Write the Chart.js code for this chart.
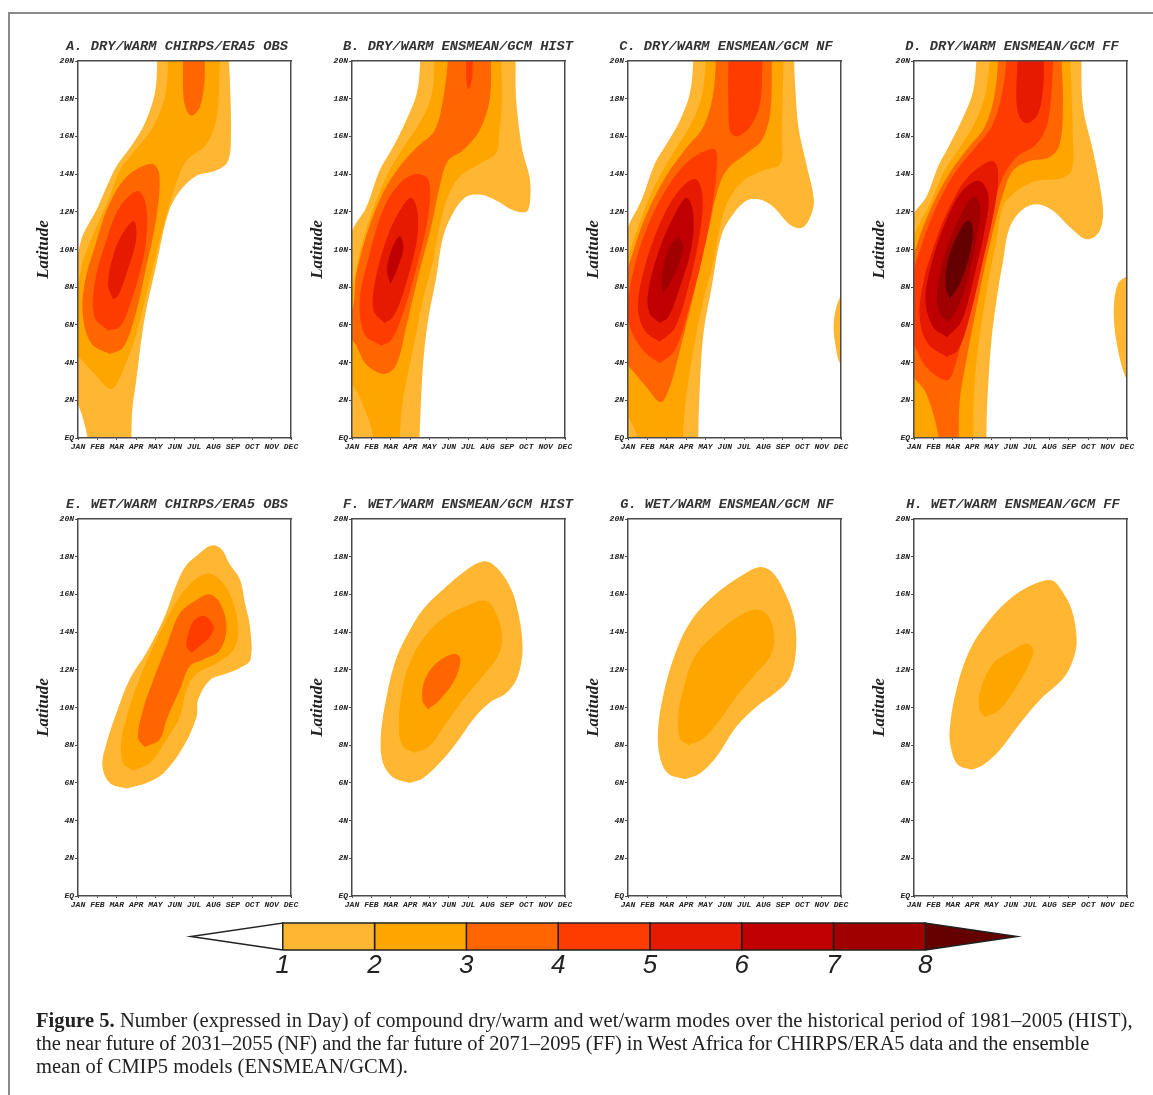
<!DOCTYPE html>
<html>
<head>
<meta charset="utf-8">
<title>Figure 5</title>
<script src="https://cdn.jsdelivr.net/npm/chart.js@4"></script>
<style>
  body { margin: 0; background: #fff; width: 1153px; height: 1095px; overflow: hidden; position: relative; }
  canvas { position: absolute; filter: blur(0.45px); }
  .frameTop { position: absolute; left: 8px; top: 12px; right: 0; height: 1.5px; background: #8a8a8a; }
  .frameLeft { position: absolute; left: 8px; top: 12px; bottom: 0; width: 1.5px; background: #8a8a8a; }
  .cap { position: absolute; left: 36px; white-space: nowrap; font: 20.5px/23px "Liberation Serif", serif; color: #222; filter: blur(0.3px); }
</style>
</head>
<body>
<div class="frameTop"></div>
<div class="frameLeft"></div>
<div class="cap" style="top:1009px;letter-spacing:0.06px"><b>Figure 5.</b> Number (expressed in Day) of compound dry/warm and wet/warm modes over the historical period of 1981–2005 (HIST),</div>
<div class="cap" style="top:1032px;letter-spacing:-0.09px">the near future of 2031–2055 (NF) and the far future of 2071–2095 (FF) in West Africa for CHIRPS/ERA5 data and the ensemble</div>
<div class="cap" style="top:1055px">mean of CMIP5 models (ENSMEAN/GCM).</div>

<script>
const months = ["JAN", "FEB", "MAR", "APR", "MAY", "JUN", "JUL", "AUG", "SEP", "OCT", "NOV", "DEC"];
const latLabels = ["EQ", "2N", "4N", "6N", "8N", "10N", "12N", "14N", "16N", "18N", "20N"];
const barTicks = [1, 2, 3, 4, 5, 6, 7, 8];
const levelColors = ["#ffffff", "#ffb733", "#ffa500", "#ff6600", "#ff3c00", "#e61a00", "#c00000", "#a00000", "#640000"];

// contour outlines as [month, latitude]; points past the frame get clipped
const A1 = [[5.09,21],[5.09,20],[4.97,18.3],[4.45,16.7],[3.76,15.5],[2.98,14.4],[2.47,13.3],[1.95,12.1],[1.26,10.8],[1,9.8],[0.3,7],[0.3,3],[1,1.8],[1.5,0],[1.55,-1],[3.75,-1],[3.76,0],[3.8,1.45],[4,3],[4.45,6.4],[5.05,9.2],[5.65,11.9],[6.26,13.1],[7.1,13.9],[8.15,14.2],[8.75,14.7],[8.9,16.1],[8.85,18.8],[8.8,20],[8.8,21]];
const A2 = [[5.66,21],[5.66,20],[5.48,18.1],[4.88,16.5],[3.93,15.25],[3.16,14.2],[2.64,12.8],[1.95,11.2],[1.26,9.4],[1,8.2],[0.3,6.5],[0.3,4.5],[1,4.3],[1.86,3.4],[2.72,2.6],[3.33,3.6],[4,5.5],[4.62,8],[5.3,10.8],[6,13.3],[6.6,14.7],[7.64,15.6],[8.16,17],[8.33,20],[8.33,21]];
const A3 = [[2.64,4.45],[1.7,5],[1.26,6.4],[1.34,8.2],[1.86,10.1],[2.55,12.25],[3.5,13.85],[4.8,14.55],[5.2,14],[5.05,11.7],[4.53,9.1],[3.93,6.4],[3.33,4.8],[2.64,4.45]];
const A3b = [[6.43,21],[6.43,20],[6.43,18.4],[6.55,17.55],[6.86,17.1],[7.29,17.55],[7.52,18.8],[7.55,20],[7.55,21]];
const A4 = [[2.55,5.7],[1.86,6.4],[1.86,8.2],[2.47,10.5],[3.16,12.25],[4.1,13.1],[4.53,12.25],[4.45,9.95],[3.76,7.3],[3.16,5.9],[2.55,5.7]];
const A5 = [[2.81,7.35],[2.55,8.2],[2.9,9.95],[3.4,11],[3.9,11.5],[4,10.5],[3.5,8.7],[3.07,7.55],[2.81,7.35]];

const B1 = [[4.52,21],[4.52,20],[4.35,18.3],[3.8,16.85],[3.1,15.4],[2.43,14.2],[1.74,12.25],[1,11],[0.3,9],[0.3,-1],[4.49,-1],[4.49,0],[4.66,3.75],[4.92,6.2],[5.35,8.5],[5.7,10.65],[6.2,11.9],[6.9,12.8],[7.67,12.9],[8.44,12.6],[9.3,12.1],[10,12],[10.2,12.6],[10.17,13.85],[9.8,15.25],[9.48,17.9],[9.45,20],[9.45,21]];
const B2 = [[5.26,21],[5.26,20],[5.09,18.1],[4.49,16.7],[3.63,15.4],[2.94,14.2],[2.25,12.6],[1.57,10.5],[1,8],[0.3,5],[0.3,3],[1,2.85],[1.74,1.3],[2.12,0],[2.15,-1],[3.44,-1],[3.46,0],[3.63,2],[4.14,4.65],[4.66,7.3],[5.18,9.4],[5.52,11.2],[5.95,12.8],[6.55,13.85],[7.58,14.55],[8.44,15.1],[8.6,16.1],[8.75,17.9],[8.7,20],[8.7,21]];
const B3 = [[5.95,21],[5.95,20],[5.69,17.9],[5.26,16.3],[4.32,15.4],[3.46,14.4],[2.6,13],[1.82,11],[1.22,8.7],[1,6.75],[0.3,6],[0.3,5.2],[1,5.2],[1.74,3.9],[2.68,3.4],[3.29,3.9],[3.8,5.9],[4.4,8.5],[5.09,11.2],[5.52,13.3],[5.95,14.7],[6.72,15.25],[7.58,16.3],[8.1,17.9],[8.18,20],[8.18,21]];
const B4 = [[2.51,4.9],[1.65,5.5],[1.4,7.3],[1.82,9.4],[2.6,12.1],[3.46,13.5],[4.32,14],[4.97,13.65],[4.92,11.7],[4.32,9],[3.63,6.6],[3.03,5.2],[2.51,4.9]];
const B4b = [[6.9,21],[6.9,20],[6.9,19],[7.02,18.5],[7.19,19],[7.24,20],[7.24,21]];
const B5 = [[2.68,6.1],[2.12,6.75],[2.17,8.2],[2.77,10.5],[3.46,12.05],[4.06,12.75],[4.4,11.9],[4.32,10.3],[3.63,7.65],[3.11,6.4],[2.68,6.1]];
const B6 = [[2.98,8.15],[2.8,8.9],[3.03,9.95],[3.46,10.7],[3.66,10.1],[3.37,9.05],[2.98,8.15]];

const C1 = [[4.37,21],[4.37,20],[4.2,18.3],[3.68,16.85],[2.99,15.6],[2.38,14.55],[1.69,12.6],[1,11.2],[0.3,9],[0.3,-1],[4.63,-1],[4.63,0],[4.68,2],[4.89,5.5],[5.32,8],[5.84,10.8],[6.44,11.9],[7.14,12.6],[7.82,12.65],[8.51,12.25],[9.38,11.3],[9.98,11.15],[10.4,11.7],[10.6,12.6],[10.24,14.4],[9.8,16.5],[9.63,18.8],[9.58,20],[9.58,21]];
const C1b = [[12.8,8.5],[12,7.55],[11.76,6.95],[11.62,6.05],[11.7,5],[12,3.85],[12.8,3],[12.8,8.5]];
const C2 = [[5.02,21],[5.02,20],[4.8,18.1],[4.28,16.7],[3.5,15.4],[2.81,14.2],[2.12,12.8],[1.52,11.2],[1,9.6],[0.3,7],[0.3,3],[1,1.2],[1.52,0],[1.55,-1],[3.83,-1],[3.85,0],[3.94,1.6],[4.37,4.65],[4.89,7.3],[5.4,9.3],[5.75,11.2],[6.18,12.6],[6.96,13.65],[8,14.2],[8.86,14.55],[8.94,16.1],[8.98,17.9],[9.03,20],[9.03,21]];
const C3 = [[5.54,21],[5.54,20],[5.37,18.1],[4.89,16.5],[4.02,15.4],[3.16,14.2],[2.38,12.8],[1.69,11.2],[1,9.05],[0.3,7],[0.3,4.5],[1,3.85],[1.95,2.7],[2.69,1.9],[3.16,2.7],[3.68,4.65],[4.19,6.75],[4.71,9.05],[5.23,11.35],[5.58,12.95],[6.09,14.2],[7.13,15.1],[7.91,15.8],[8.34,17.2],[8.43,20],[8.43,21]];
const C4 = [[2.64,3.95],[1.78,4.65],[1.09,5.9],[1,7.3],[1.52,9.8],[2.3,11.9],[3.16,13.5],[4.19,14.75],[5.4,15.35],[5.6,14.9],[5.4,12.6],[4.89,9.8],[4.19,7],[3.42,4.65],[2.64,3.95]];
const C4b = [[6.18,21],[6.18,20],[6.18,17.9],[6.27,16.3],[6.61,16],[7.3,16.5],[7.82,17.75],[7.94,20],[7.94,21]];
const C5 = [[2.64,5.1],[1.86,5.7],[1.52,6.95],[1.86,9.05],[2.64,11.35],[3.5,12.95],[4.45,13.75],[4.83,12.95],[4.71,10.85],[4.11,8],[3.42,5.85],[2.64,5.1]];
const C6 = [[2.64,6.1],[2.12,6.6],[2.03,7.65],[2.55,9.8],[3.33,11.7],[4.02,12.75],[4.37,11.9],[4.28,10.1],[3.68,8],[3.08,6.4],[2.64,6.1]];
const C7 = [[2.81,7.65],[2.73,8.5],[3.07,9.95],[3.6,10.65],[3.85,10.1],[3.42,8.7],[2.81,7.65]];

const D1 = [[4.22,21],[4.22,20],[4.05,18.4],[3.53,17],[2.76,15.4],[2.24,14.4],[1.64,12.8],[1,11.9],[0.3,10],[0.3,-1],[4.74,-1],[4.74,0],[4.79,2],[5,5.2],[5.26,7.3],[5.6,9.4],[5.95,11.2],[6.64,12.15],[7.41,12.4],[8.18,12.05],[9.04,11.2],[9.9,10.55],[10.5,10.85],[10.76,11.7],[10.67,12.95],[10.24,15.25],[9.73,17.55],[9.64,20],[9.64,21]];
const D1b = [[12.8,9.2],[12,8.6],[11.54,8.2],[11.32,6.95],[11.45,5.15],[12,3.05],[12.8,2],[12.8,9.2]];
const D2 = [[4.91,21],[4.91,20],[4.65,18.1],[4.13,16.7],[3.36,15.4],[2.58,14.2],[1.9,12.6],[1,10.8],[0.3,9],[0.3,-1],[4.05,-1],[4.05,0],[4.13,2.85],[4.4,5.5],[4.82,8.2],[5.26,10.5],[5.6,12.25],[6.29,13.1],[7.33,13.65],[8.53,13.75],[9.14,14.2],[9.2,16.1],[9.08,20],[9.08,21]];
const D3 = [[5.34,21],[5.34,20],[5.14,18.1],[4.65,16.5],[3.8,15.4],[2.93,14.2],[2.16,12.8],[1.47,11.2],[1,9.8],[0.3,8],[0.3,4],[1,3.2],[1.64,2.35],[2.29,0],[2.3,-1],[3.3,-1],[3.31,0],[3.36,2],[3.7,4.1],[4.13,6.4],[4.65,9.05],[5.17,11.35],[5.6,12.95],[6.12,14.2],[6.98,14.7],[8,14.9],[8.53,15.6],[8.7,17.9],[8.62,20],[8.62,21]];
const D4 = [[5.77,21],[5.77,20],[5.51,18.1],[5,16.5],[4.15,15.4],[3.2,14.2],[2.41,12.8],[1.72,11.2],[1,9.05],[0.3,7.5],[0.3,5.5],[1,4.9],[1.64,3.75],[2.7,3.05],[3.1,3.75],[3.62,5.9],[4.13,8],[4.56,10.3],[5.08,12.25],[5.6,13.85],[6.29,14.9],[7.33,15.6],[7.93,16.85],[8.19,20],[8.19,21]];
const D5 = [[2.7,4.3],[1.72,5],[1.29,6.4],[1.47,8.2],[2.07,10.3],[2.84,12.25],[3.79,13.85],[5,14.7],[5.34,14.2],[5.17,12.25],[4.56,9.4],[3.87,6.4],[3.27,4.65],[2.7,4.3]];
const D5b = [[6.34,21],[6.34,20],[6.29,17.9],[6.46,17],[6.86,16.7],[7.41,17.2],[7.67,18.6],[7.71,20],[7.71,21]];
const D6 = [[2.7,5.35],[1.98,5.9],[1.6,7.3],[1.9,9.25],[2.67,11.55],[3.53,13.15],[4.36,13.65],[4.83,12.95],[4.74,11.55],[4.14,8.7],[3.45,6.2],[2.7,5.35]];
const D7 = [[2.76,6.15],[2.33,6.6],[2.19,7.65],[2.59,9.75],[3.28,11.55],[4.05,12.8],[4.43,12.25],[4.22,10.5],[3.71,8.2],[3.1,6.6],[2.76,6.15]];
const D8 = [[2.84,7.4],[2.64,8],[2.71,9.25],[3.19,10.65],[3.79,11.55],[4.05,11],[3.79,9.4],[3.27,8],[2.84,7.4]];

const E1 = [[3.5,5.7],[2.64,6],[2.26,6.9],[2.47,8.1],[2.98,9.7],[3.67,11.5],[4.53,12.9],[5.4,14.65],[6.43,17.3],[7.29,18.2],[7.9,18.6],[8.41,18.4],[8.84,17.6],[9.36,16.8],[9.62,15.55],[9.88,14.3],[9.91,12.55],[9.36,12.1],[8.67,11.8],[7.81,11.45],[7.2,10.4],[7.12,9.5],[6.43,7.9],[5.4,6.5],[4.53,6],[3.5,5.7]];
const E2 = [[3.84,6.65],[3.33,7.05],[3.24,8.3],[3.67,10.05],[4.28,11.8],[5.22,13.95],[6.26,15.9],[7.12,16.85],[7.81,17.1],[8.5,16.6],[9.02,15.55],[9.28,14.1],[9.02,13.05],[8.16,12.35],[7.12,11.8],[6.6,10.95],[6.26,9.5],[5.57,8.3],[4.71,7.05],[3.84,6.65]];
const E3 = [[4.45,7.9],[4.1,8.4],[4.36,9.9],[4.88,11.45],[5.57,13.25],[6.26,15],[7.12,15.7],[7.81,16],[8.33,15.55],[8.67,14.3],[8.33,13.05],[7.47,12.55],[6.78,12.2],[6.26,10.95],[5.57,9.35],[5.22,8.3],[4.45,7.9]];
const E4 = [[6.86,12.9],[6.6,13.25],[6.72,14],[7.03,14.65],[7.55,14.85],[8,14.3],[7.81,13.75],[7.29,13.25],[6.86,12.9]];

const F1 = [[3.97,6],[3.11,6.3],[2.6,7.05],[2.48,8.3],[2.69,10.05],[3.2,12.35],[3.8,13.75],[4.66,15.2],[5.69,16.25],[6.9,17.3],[7.75,17.75],[8.27,17.6],[8.95,16.8],[9.47,15.55],[9.81,13.25],[9.56,11.65],[8.95,10.75],[8.1,10.25],[7.24,9.35],[6.38,8.1],[5.52,7.05],[4.66,6.25],[3.97,6]];
const F2 = [[4.23,7.6],[3.63,7.95],[3.42,8.8],[3.54,10.6],[3.97,12.35],[4.75,13.75],[5.86,14.85],[7.07,15.45],[7.92,15.65],[8.44,15],[8.75,13.75],[8.53,12.7],[7.58,11.45],[6.72,10.4],[5.86,9.15],[5,7.95],[4.23,7.6]];
const F3 = [[4.92,9.9],[4.63,10.4],[4.75,11.45],[5.35,12.35],[6.29,12.85],[6.6,12.55],[6.29,11.45],[5.52,10.4],[4.92,9.9]];

const G1 = [[3.94,6.2],[3.07,6.5],[2.64,7.4],[2.55,8.8],[2.81,10.6],[3.33,12.55],[4.19,14.5],[5.4,15.9],[6.79,16.95],[7.82,17.45],[8.43,17.2],[9.03,16.25],[9.55,14.85],[9.69,13.25],[9.38,11.65],[8.69,10.85],[7.65,10.05],[6.61,9],[5.58,7.4],[4.71,6.5],[3.94,6.2]];
const G2 = [[4.11,8],[3.68,8.35],[3.59,9.5],[3.85,10.95],[4.45,12.7],[5.58,13.95],[6.79,14.9],[7.65,15.2],[8.25,14.85],[8.55,13.75],[8.34,12.7],[7.48,11.65],[6.61,10.6],[5.75,9.35],[4.89,8.35],[4.11,8]];

const H1 = [[3.97,6.7],[3.28,6.95],[2.93,7.75],[2.84,8.8],[3.19,10.95],[3.88,13.05],[4.91,14.65],[6.12,15.9],[7.33,16.6],[8.1,16.75],[8.53,16.35],[9.14,15.2],[9.4,13.6],[9.22,12.55],[8.71,11.55],[7.5,10.4],[6.47,9.15],[5.43,7.75],[4.57,6.95],[3.97,6.7]];
const H2 = [[4.66,9.5],[4.36,9.95],[4.48,11.1],[5.09,12.35],[5.95,12.95],[6.81,13.4],[7.16,13.05],[6.9,12.2],[6.29,11.1],[5.43,9.9],[4.66,9.5]];

// title, contours as [level, outline], left of frame, top of frame, centre of title
const panels = [
  ["A. DRY/WARM CHIRPS/ERA5 OBS", [[1,A1],[2,A2],[3,A3],[3,A3b],[4,A4],[5,A5]], 78, 61, 177],
  ["B. DRY/WARM ENSMEAN/GCM HIST", [[1,B1],[2,B2],[3,B3],[4,B4],[4,B4b],[5,B5],[6,B6]], 352, 61, 458],
  ["C. DRY/WARM ENSMEAN/GCM NF", [[1,C1],[1,C1b],[2,C2],[3,C3],[4,C4],[4,C4b],[5,C5],[6,C6],[7,C7]], 628, 61, 726],
  ["D. DRY/WARM ENSMEAN/GCM FF", [[1,D1],[1,D1b],[2,D2],[3,D3],[4,D4],[5,D5],[5,D5b],[6,D6],[7,D7],[8,D8]], 914, 61, 1012],
  ["E. WET/WARM CHIRPS/ERA5 OBS", [[1,E1],[2,E2],[3,E3],[4,E4]], 78, 519, 177],
  ["F. WET/WARM ENSMEAN/GCM HIST", [[1,F1],[2,F2],[3,F3]], 352, 519, 458],
  ["G. WET/WARM ENSMEAN/GCM NF", [[1,G1],[2,G2]], 628, 519, 727],
  ["H. WET/WARM ENSMEAN/GCM FF", [[1,H1],[2,H2]], 914, 519, 1013],
];

const frameColor = "#4a4a4a";
const tickFont = { family: "Liberation Mono", size: 8, weight: "bold", style: "italic" };

function hiddenAxis(axis, position) {
  return {
    axis: axis, position: position, type: "linear",
    grid: { display: false },
    ticks: { display: false },
    border: { display: true, color: frameColor, width: 1.5, z: 1 },
  };
}

function drawPanel(panel) {
  const [title, contours, left, top, titleCx] = panel;
  const yWidth = 43, frameW = 213;
  const canvasLeft = left - yWidth;
  const width = Math.round(2 * (titleCx - canvasLeft));

  const canvas = document.createElement("canvas");
  canvas.width = width;
  canvas.height = 423;
  canvas.style.left = canvasLeft + "px";
  canvas.style.top = (top - 26) + "px";
  document.body.appendChild(canvas);

  const datasets = contours.map(([level, outline]) => ({
    data: outline.map(([x, y]) => ({ x, y })),
    showLine: true,
    fill: "shape",
    backgroundColor: levelColors[level],
    borderWidth: 0,
    pointRadius: 0,
    tension: 0.35,
    capBezierPoints: false,
    order: 10 - level,
  }));

  const xTop = hiddenAxis("x", "top");
  xTop.afterFit = (s) => { s.height = 0; };
  const yRight = hiddenAxis("y", "right");
  yRight.afterFit = (s) => { s.width = width - yWidth - frameW; };

  new Chart(canvas, {
    type: "scatter",
    data: { datasets },
    options: {
      responsive: false,
      animation: false,
      events: [],
      plugins: {
        legend: { display: false },
        tooltip: { enabled: false },
        title: {
          display: true,
          text: title,
          color: "#333",
          font: { family: "Liberation Mono", size: 13.7, style: "italic", lineHeight: "16px" },
          padding: { top: 4, bottom: 6 },
        },
      },
      scales: {
        x: {
          type: "linear", min: 1, max: 12,
          afterFit: (s) => { s.height = 20; },
          grid: { drawOnChartArea: false, tickLength: 2, color: frameColor },
          border: { color: frameColor, width: 1.5, z: 1 },
          ticks: {
            stepSize: 1, autoSkip: false, maxRotation: 0, padding: 2,
            color: "#222", font: tickFont,
            callback: (v) => months[v - 1],
          },
        },
        y: {
          type: "linear", min: 0, max: 20,
          afterFit: (s) => { s.width = yWidth; },
          title: {
            display: true, text: "Latitude", color: "#222", padding: 0,
            font: { family: "Liberation Serif", size: 17, weight: "bold", style: "italic", lineHeight: 1 },
          },
          grid: { drawOnChartArea: false, tickLength: 3, color: frameColor },
          border: { color: frameColor, width: 1.5, z: 1 },
          ticks: {
            stepSize: 2, autoSkip: false, padding: 1,
            color: "#222", font: tickFont,
            callback: (v) => latLabels[v / 2],
          },
        },
        xTop, yRight,
      },
    },
  });
}

panels.forEach(drawPanel);

// colour bar: one cell per level, triangles past both ends
const barCanvas = document.createElement("canvas");
barCanvas.width = 910;
barCanvas.height = 80;
barCanvas.style.left = "150px";
barCanvas.style.top = "910px";
document.body.appendChild(barCanvas);

function barPiece(outline, color) {
  return {
    data: outline.map(([x, y]) => ({ x, y })),
    showLine: true, fill: "shape", backgroundColor: color,
    borderColor: "#222", borderWidth: 1.5, pointRadius: 0, tension: 0, clip: false,
  };
}

const barSets = barTicks.slice(0, -1).map((l) =>
  barPiece([[l, 0], [l + 1, 0], [l + 1, 1], [l, 1], [l, 0]], levelColors[l]));
barSets.push(barPiece([[1, 0], [1, 1], [0, 0.5], [1, 0]], levelColors[0]));
barSets.push(barPiece([[8, 0], [8, 1], [9, 0.5], [8, 0]], levelColors[8]));

new Chart(barCanvas, {
  type: "scatter",
  data: { datasets: barSets },
  options: {
    responsive: false,
    animation: false,
    events: [],
    layout: { padding: { left: 41, right: 43, top: 13, bottom: 0 } },
    plugins: { legend: { display: false }, tooltip: { enabled: false } },
    scales: {
      x: {
        type: "linear", min: 0, max: 9,
        afterFit: (s) => { s.height = 40; },
        grid: { display: false, drawTicks: false },
        border: { display: false },
        ticks: {
          stepSize: 1, autoSkip: false, maxRotation: 0, padding: 0,
          color: "#222",
          font: { family: "Liberation Sans Narrow, Liberation Sans", size: 26, style: "italic" },
          callback: (v) => (barTicks.includes(v) ? v : ""),
        },
      },
      y: { display: false, min: 0, max: 1 },
    },
  },
});
</script>
</body>
</html>
